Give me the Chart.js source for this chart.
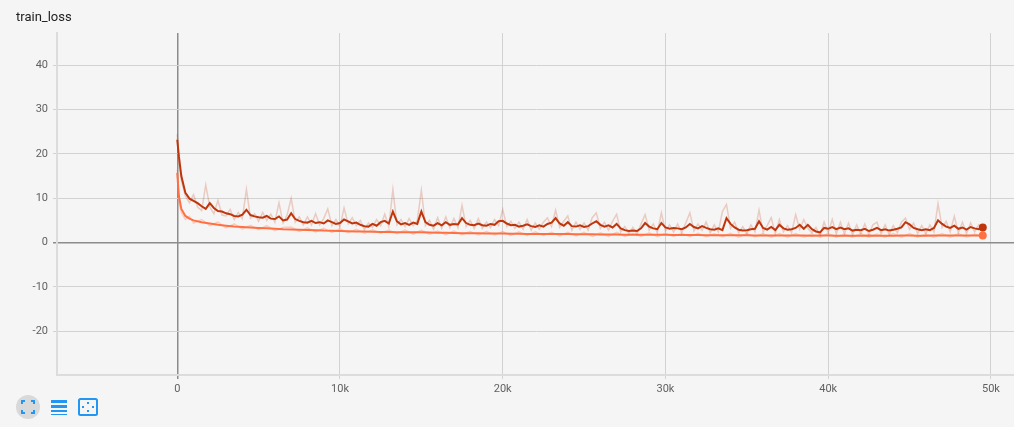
<!DOCTYPE html>
<html>
<head>
<meta charset="utf-8">
<script src="https://cdn.jsdelivr.net/npm/chart.js@4"></script>
<style>
  html, body { margin: 0; background: #f5f5f5; font-family: Roboto, sans-serif; overflow: hidden; }
  #wrap { position: relative; width: 1019px; height: 427px; }
  #title { position: absolute; left: 16px; top: 9px; font-size: 13px; color: #212121; }
  #icons { position: absolute; left: 16px; top: 395px; }
</style>
</head>
<body>
<div id="wrap">
  <canvas id="lossChart"></canvas>
  <div id="title">train_loss</div>
  <svg id="icons" width="90" height="26" viewBox="0 0 90 26">
    <circle cx="12" cy="12" r="12" fill="#d9d9d9"/>
    <g stroke="#2196f3" stroke-width="2" fill="none">
      <path d="M6 9 V6 H9 M15 6 H18 V9 M18 15 V18 H15 M9 18 H6 V15"/>
    </g>
    <g fill="#2196f3">
      <rect x="35" y="5" width="16" height="3"/>
      <rect x="35" y="10" width="16" height="3"/>
      <rect x="35" y="15" width="16" height="2"/>
      <rect x="35" y="19" width="16" height="1"/>
    </g>
    <g stroke="#2196f3" fill="none">
      <rect x="63" y="4" width="18" height="16" rx="1.5" stroke-width="2"/>
    </g>
    <g fill="#2196f3">
      <rect x="71" y="7" width="2" height="2"/>
      <rect x="71" y="15" width="2" height="2"/>
      <rect x="66" y="11" width="2" height="2"/>
      <rect x="76" y="11" width="2" height="2"/>
    </g>
  </svg>
</div>
<script>
const xTicks = [0, 10000, 20000, 30000, 40000, 50000];
const yTicks = [-20, -10, 0, 10, 20, 30, 40];

// steps for the dark run: 0, 100, then every 250
const darkSteps = [0, 100];
for (let s = 250; s <= 49500; s += 250) darkSteps.push(s);

// steps for the orange run: dense at the start, then every 500
const orangeSteps = [0, 100, 250, 500, 750];
for (let s = 1000; s <= 49500; s += 500) orangeSteps.push(s);

const darkSmooth = [
  23.2, 19.5,
  15.0, 11.2, 9.9,
  9.4, 8.9, 8.2, 7.6,
  8.9, 7.8, 7.1, 7.0,
  6.6, 6.4, 6.0, 5.9,
  6.3, 7.4, 6.2, 5.9,
  5.7, 5.6, 6.0, 5.4,
  5.3, 5.9, 5.0, 5.2,
  6.6, 5.3, 4.9, 4.6,
  4.5, 4.9, 4.4, 4.6,
  4.3, 5.0, 4.6, 4.2,
  4.4, 5.2, 4.8, 4.3,
  4.5, 4.0, 3.7, 3.6,
  4.2, 3.8, 4.6, 4.9,
  4.3, 7.0, 4.8, 4.1,
  4.4, 4.0, 4.5, 4.2,
  7.0, 4.6, 4.0, 3.8,
  4.4, 3.9, 4.6, 4.0,
  4.2, 4.1, 5.5, 4.4,
  4.0, 3.9, 4.3, 3.9,
  3.8, 4.2, 4.0, 4.8,
  4.9, 4.3, 3.9, 4.0,
  3.6, 3.8, 4.1, 3.7,
  3.5, 3.9, 3.6, 4.2,
  4.5, 5.5, 4.3, 3.8,
  4.6, 3.7, 3.6, 3.9,
  3.5, 3.7, 4.3, 4.8,
  4.0, 3.6, 3.9, 3.4,
  4.2, 3.2, 2.8, 2.6,
  2.7, 2.6, 3.2, 4.4,
  3.6, 3.2, 3.0, 4.4,
  3.4, 3.1, 3.3, 3.2,
  3.0, 3.4, 4.2, 3.5,
  3.2, 3.7, 3.3, 3.0,
  2.9, 3.2, 2.8, 5.5,
  4.2, 3.4, 2.9, 2.7,
  2.8, 3.0, 3.1, 4.8,
  3.3, 2.9, 3.5, 2.8,
  4.0, 3.2, 2.9, 3.0,
  3.3, 4.0, 3.1, 4.0,
  3.0, 2.5, 2.3, 3.3,
  3.1, 3.5, 3.0, 3.4,
  3.0, 3.2, 2.7, 2.9,
  2.8, 3.1, 2.6, 2.9,
  3.3, 2.8, 3.0, 2.7,
  2.9, 3.1, 3.4, 4.6,
  4.1, 3.3, 3.0, 2.8,
  3.0, 2.8, 3.3, 5.0,
  4.2, 3.6, 3.3, 3.8,
  3.1, 3.4, 2.9, 3.5,
  3.2, 3.0, 3.4
];

const darkRaw = [
  24.5, 18.0,
  14.0, 10.5, 9.0,
  10.8, 8.0, 7.2, 13.0,
  8.0, 6.5, 9.5, 6.2,
  6.0, 7.5, 5.2, 6.8,
  5.4, 12.0, 5.5, 6.5,
  4.8, 6.8, 5.0, 6.4,
  4.6, 9.0, 4.4, 6.2,
  10.0, 4.6, 5.8, 4.0,
  5.8, 4.0, 6.5, 4.0,
  5.4, 7.6, 3.8, 5.2,
  3.6, 7.8, 4.2, 5.6,
  3.8, 5.0, 2.9, 4.4,
  3.4, 5.2, 3.8, 6.4,
  3.6, 12.0, 4.0, 5.2,
  3.6, 5.4, 3.8, 5.0,
  11.8, 3.8, 5.0, 3.0,
  5.6, 3.2, 5.8, 3.4,
  5.4, 3.4, 8.4, 3.6,
  5.0, 3.2, 5.4, 3.2,
  4.6, 3.4, 5.2, 3.8,
  7.5, 3.6, 4.8, 3.2,
  4.6, 3.0, 5.2, 2.8,
  4.4, 3.0, 4.6, 5.6,
  3.6, 7.3, 3.4, 4.8,
  6.0, 2.8, 4.6, 3.0,
  4.4, 2.8, 5.6, 6.7,
  3.2, 4.6, 2.8, 4.8,
  6.4, 2.4, 3.6, 2.0,
  3.4, 1.9, 4.2, 6.3,
  2.8, 4.2, 2.2, 6.7,
  2.6, 4.0, 2.4, 4.2,
  2.2, 4.4, 6.7, 2.6,
  4.2, 2.8, 4.6, 2.2,
  4.0, 2.4, 7.0, 8.6,
  3.2, 4.6, 2.2, 3.6,
  2.0, 4.0, 2.4, 7.3,
  2.4, 3.8, 5.6, 2.0,
  5.2, 2.4, 3.8, 2.2,
  6.3, 3.0, 5.2, 3.2,
  2.2, 3.4, 1.6, 4.6,
  2.2, 5.2, 2.0, 4.6,
  2.0, 4.4, 1.8, 4.0,
  2.0, 4.2, 1.8, 4.0,
  4.6, 2.0, 4.0, 1.8,
  3.8, 2.2, 4.6, 5.5,
  3.0, 4.4, 2.0, 3.8,
  2.0, 4.0, 2.4, 8.8,
  3.4, 4.8, 2.4, 5.9,
  2.2, 4.6, 2.0, 4.4,
  2.4, 4.0, 3.4
];

const orangeSmooth = [
  15.7, 10.5, 7.6, 6.0, 5.4,
  5.0, 4.6, 4.3, 4.0, 3.8, 3.6, 3.5, 3.4, 3.3, 3.2,
  3.1, 3.0, 2.95, 2.9, 2.85, 2.8, 2.7, 2.65, 2.6, 2.55,
  2.5, 2.5, 2.45, 2.4, 2.4, 2.35, 2.35, 2.3, 2.3, 2.25,
  2.2, 2.2, 2.15, 2.1, 2.1, 2.1, 2.05, 2.05, 2.05, 2.0,
  2.0, 1.95, 1.95, 1.95, 1.9, 1.9, 1.9, 1.85, 1.85, 1.85,
  1.8, 1.8, 1.8, 1.75, 1.75, 1.75, 1.75, 1.75, 1.75, 1.7,
  1.7, 1.7, 1.7, 1.65, 1.65, 1.65, 1.65, 1.65, 1.65, 1.6,
  1.6, 1.6, 1.6, 1.6, 1.6, 1.6, 1.55, 1.6, 1.6, 1.55,
  1.55, 1.55, 1.55, 1.6, 1.55, 1.55, 1.55, 1.6, 1.6, 1.55,
  1.55, 1.6, 1.6, 1.6, 1.6, 1.6, 1.6, 1.6
];

const orangeRaw = [
  16.5, 9.0, 6.8, 5.2, 5.9,
  4.4, 5.2, 3.8, 4.6, 3.3, 4.2, 3.0, 3.9, 2.9, 3.8,
  2.7, 3.4, 3.5, 2.5, 3.3, 2.4, 3.2, 2.3, 3.1, 2.2,
  3.0, 2.1, 2.9, 2.1, 2.8, 2.0, 2.8, 1.9, 2.8, 1.9,
  2.6, 1.8, 2.6, 1.8, 2.5, 1.7, 2.5, 1.7, 2.5, 1.6,
  2.4, 1.6, 2.4, 1.6, 2.3, 1.5, 2.3, 1.5, 2.3, 1.4,
  2.2, 1.4, 2.3, 1.4, 2.1, 1.4, 2.2, 1.3, 2.1, 1.4,
  2.1, 1.3, 2.1, 1.3, 2.0, 1.3, 2.1, 1.2, 2.0, 1.3,
  2.0, 1.2, 2.0, 1.2, 2.0, 1.2, 1.9, 1.2, 2.0, 1.2,
  1.9, 1.2, 2.0, 1.2, 1.9, 1.2, 2.0, 1.2, 2.0, 1.2,
  1.9, 1.2, 2.0, 1.2, 2.0, 1.2, 1.9, 1.3
];

const darkColor = '#bf360c';
const orangeColor = '#ff7043';

function pts(steps, vals) {
  return steps.map((x, i) => ({ x: x, y: vals[i] }));
}

function lastDot(r) {
  return (ctx) => ctx.dataIndex === ctx.dataset.data.length - 1 ? r : 0;
}

Chart.defaults.font.family = 'Roboto, sans-serif';
Chart.defaults.font.size = 11;
Chart.defaults.color = '#616161';

const ctx = document.getElementById('lossChart').getContext('2d');
const lossChart = new Chart(ctx, {
  type: 'line',
  data: {
    datasets: [{
      label: 'dark raw',
      data: pts(darkSteps, darkRaw),
      borderColor: 'rgba(191, 54, 12, 0.22)',
      borderWidth: 1.5,
      pointRadius: 0
    }, {
      label: 'orange raw',
      data: pts(orangeSteps, orangeRaw),
      borderColor: 'rgba(255, 112, 67, 0.3)',
      borderWidth: 1.5,
      pointRadius: 0
    }, {
      label: 'dark',
      data: pts(darkSteps, darkSmooth),
      borderColor: darkColor,
      backgroundColor: darkColor,
      borderWidth: 2,
      pointRadius: lastDot(4),
      pointBorderWidth: 0
    }, {
      label: 'orange',
      data: pts(orangeSteps, orangeSmooth),
      borderColor: orangeColor,
      backgroundColor: orangeColor,
      borderWidth: 2,
      pointRadius: lastDot(4),
      pointBorderWidth: 0
    }]
  },
  options: {
    responsive: true,
    maintainAspectRatio: false,
    animation: false,
    layout: { padding: { top: 33, left: 0, right: 0, bottom: 0 } },
    plugins: {
      legend: { display: false },
      tooltip: { enabled: false }
    },
    scales: {
      x: {
        type: 'linear',
        min: -7390,
        max: 51480,
        afterBuildTicks: (scale) => { scale.ticks = xTicks.map(v => ({ value: v })); },
        afterFit: (scale) => { scale.height = 52; },
        ticks: {
          padding: 4,
          maxRotation: 0,
          callback: (v) => v === 0 ? '0' : (v / 1000) + 'k'
        },
        grid: {
          tickLength: 4,
          color: (c) => c.tick && c.tick.value === 0 ? '#8c8c8c' : '#d2d2d2',
          lineWidth: (c) => c.tick && c.tick.value === 0 ? 1.5 : 1
        },
        border: { display: true, color: '#dcdcdc', width: 2 }
      },
      y: {
        min: -29.9,
        max: 47.3,
        afterBuildTicks: (scale) => { scale.ticks = yTicks.map(v => ({ value: v })); },
        afterFit: (scale) => { scale.width = 57; },
        ticks: { padding: 5 },
        grid: {
          tickLength: 4,
          color: (c) => c.tick && c.tick.value === 0 ? '#8c8c8c' : '#d2d2d2',
          lineWidth: (c) => c.tick && c.tick.value === 0 ? 1.5 : 1
        },
        border: { display: true, color: '#dcdcdc', width: 2 }
      }
    }
  }
});
</script>
</body>
</html>
